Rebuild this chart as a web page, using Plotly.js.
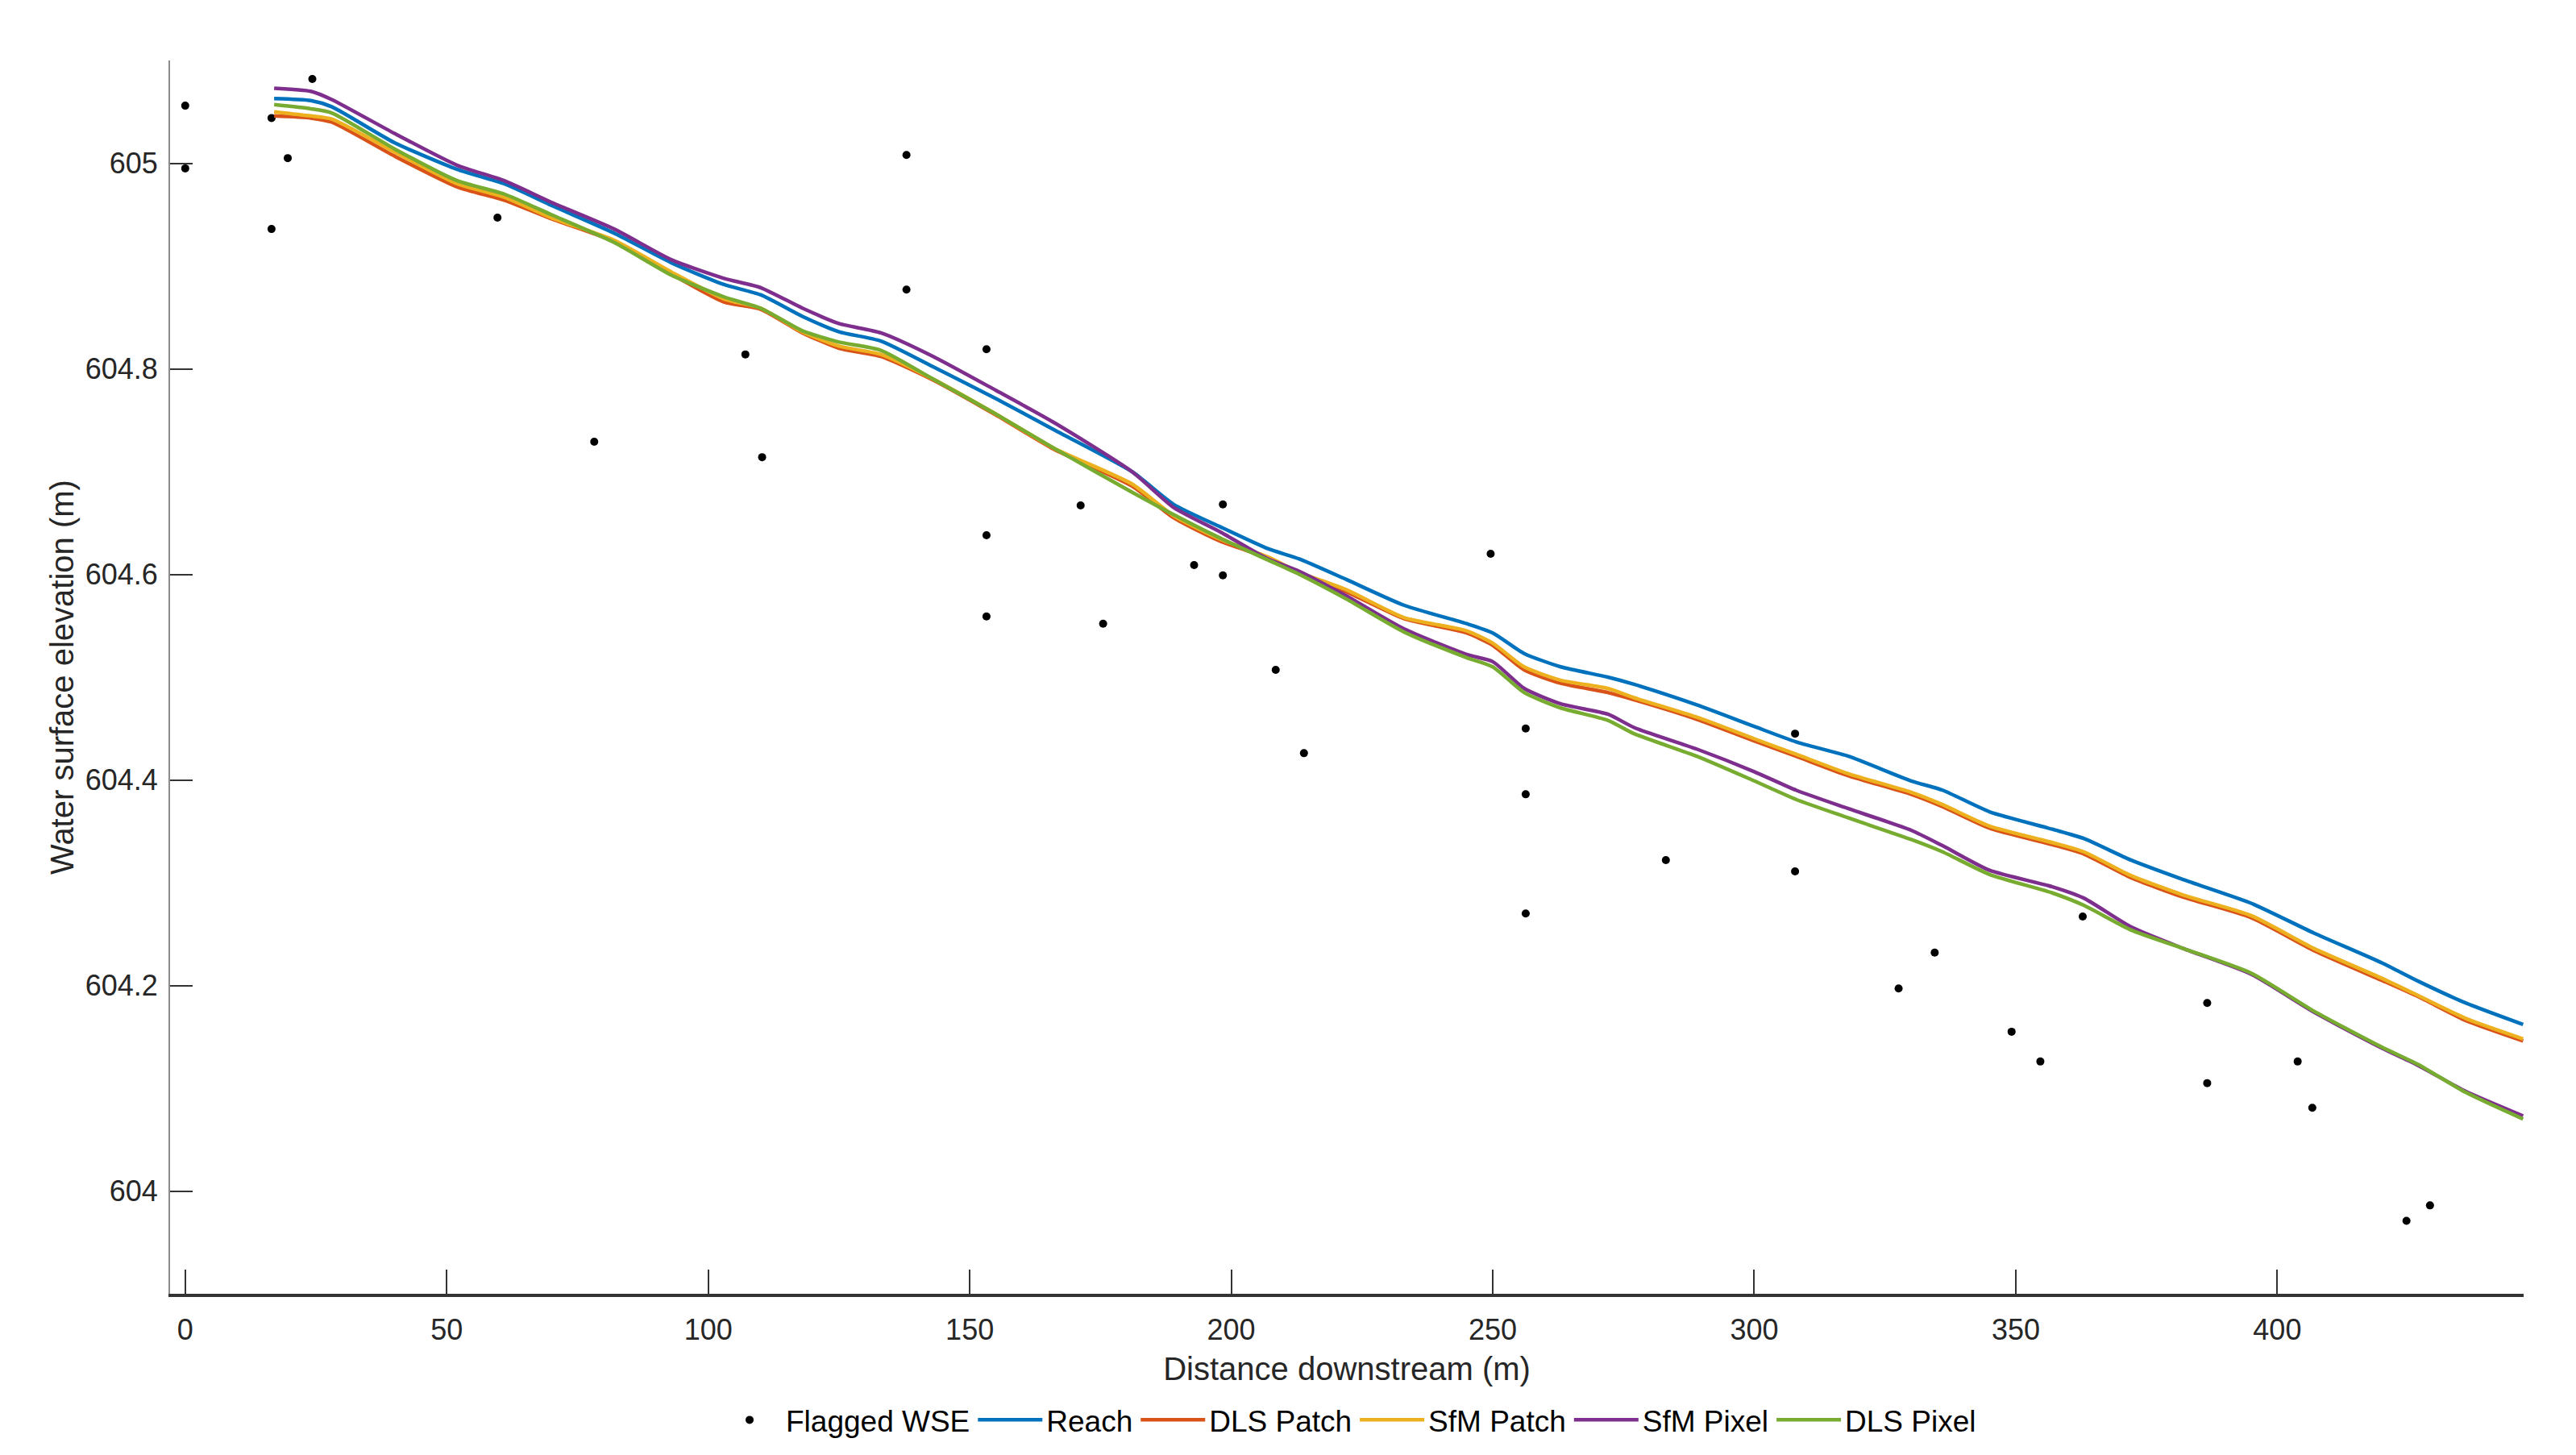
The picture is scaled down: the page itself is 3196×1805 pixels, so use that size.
<!DOCTYPE html>
<html>
<head>
<meta charset="utf-8">
<script src="https://cdn.plot.ly/plotly-3.0.1.min.js"></script>
<style>
html,body{margin:0;padding:0;background:#fff;}
#chart{width:3196px;height:1805px;}
</style>
</head>
<body>
<div id="chart"></div>
<script>
// Flagged water surface elevation points
const flaggedX = [0, 0, 16.5, 16.5, 19.6, 24.3, 59.7, 78.2, 107.1, 110.3, 137.9, 137.9, 153.2, 153.2, 153.2, 171.2, 175.5, 192.9, 198.4, 198.4, 208.5, 213.9, 249.6, 256.3, 256.3, 256.3, 283.1, 307.8, 307.8, 327.6, 334.5, 349.2, 354.7, 362.8, 386.6, 386.6, 403.9, 406.7, 424.7, 429.2];
const flaggedY = [605.056, 604.995, 605.044, 604.936, 605.005, 605.082, 604.947, 604.729, 604.814, 604.714, 605.008, 604.877, 604.819, 604.638, 604.559, 604.667, 604.552, 604.609, 604.668, 604.599, 604.507, 604.426, 604.620, 604.450, 604.386, 604.270, 604.322, 604.445, 604.311, 604.197, 604.232, 604.155, 604.126, 604.267, 604.183, 604.105, 604.126, 604.081, 603.971, 603.986];

// Distance downstream (m) for the modelled profiles
const distance = [17, 24, 28, 40, 52, 61, 70, 82, 93, 103, 110, 118, 125, 133, 143, 155, 166, 181, 189, 198, 207, 213, 222, 233, 245, 250, 256, 263, 272, 277, 289, 300, 308, 318, 330, 336, 345, 357, 363, 372, 382, 395, 407, 420, 427, 436, 447];

const reach = [605.063, 605.061, 605.055, 605.020, 604.994, 604.980, 604.959, 604.932, 604.903, 604.882, 604.872, 604.851, 604.836, 604.827, 604.802, 604.771, 604.741, 604.700, 604.668, 604.646, 604.625, 604.615, 604.595, 604.570, 604.552, 604.543, 604.523, 604.510, 604.500, 604.493, 604.473, 604.452, 604.437, 604.423, 604.399, 604.390, 604.369, 604.352, 604.343, 604.322, 604.303, 604.280, 604.251, 604.222, 604.204, 604.183, 604.162];

const dlsPatch = [605.046, 605.044, 605.040, 605.007, 604.977, 604.964, 604.946, 604.924, 604.892, 604.865, 604.858, 604.835, 604.820, 604.812, 604.789, 604.755, 604.722, 604.686, 604.655, 604.632, 604.616, 604.601, 604.583, 604.557, 604.543, 604.531, 604.507, 604.494, 604.485, 604.478, 604.459, 604.438, 604.423, 604.404, 604.386, 604.374, 604.353, 604.337, 604.328, 604.305, 604.286, 604.266, 604.234, 604.205, 604.189, 604.166, 604.146];

const sfmPatch = [605.050, 605.046, 605.043, 605.011, 604.980, 604.967, 604.947, 604.925, 604.894, 604.868, 604.859, 604.836, 604.822, 604.814, 604.790, 604.756, 604.723, 604.688, 604.657, 604.634, 604.617, 604.602, 604.585, 604.558, 604.545, 604.533, 604.510, 604.497, 604.489, 604.480, 604.461, 604.440, 604.425, 604.406, 604.388, 604.376, 604.355, 604.339, 604.330, 604.307, 604.288, 604.268, 604.236, 604.207, 604.190, 604.168, 604.148];

const sfmPixel = [605.073, 605.070, 605.062, 605.029, 604.998, 604.983, 604.962, 604.936, 604.906, 604.888, 604.879, 604.859, 604.844, 604.835, 604.812, 604.779, 604.748, 604.700, 604.665, 604.641, 604.615, 604.603, 604.579, 604.547, 604.522, 604.515, 604.489, 604.474, 604.464, 604.451, 604.430, 604.408, 604.390, 604.372, 604.351, 604.336, 604.312, 604.296, 604.285, 604.257, 604.236, 604.211, 604.174, 604.139, 604.122, 604.097, 604.073];

const dlsPixel = [605.057, 605.053, 605.049, 605.014, 604.983, 604.970, 604.950, 604.923, 604.891, 604.870, 604.859, 604.837, 604.826, 604.818, 604.790, 604.756, 604.723, 604.680, 604.658, 604.635, 604.614, 604.600, 604.576, 604.544, 604.519, 604.510, 604.485, 604.470, 604.458, 604.445, 604.423, 604.399, 604.381, 604.363, 604.342, 604.330, 604.308, 604.290, 604.278, 604.254, 604.236, 604.212, 604.175, 604.140, 604.123, 604.096, 604.070];

const xTicks = [0, 50, 100, 150, 200, 250, 300, 350, 400];
const yTicks = [604, 604.2, 604.4, 604.6, 604.8, 605];
const yTickText = ['604', '604.2', '604.4', '604.6', '604.8', '605'];

const FONT = 'Liberation Sans, Arial, Helvetica, sans-serif';

function lineTrace(name, y, color) {
  return {
    type: 'scatter', mode: 'lines', name: name,
    x: distance, y: y,
    line: {color: color, width: 4.5, shape: 'spline', smoothing: 0.6}
  };
}

const data = [
  {type: 'scatter', mode: 'markers', name: 'Flagged WSE', x: flaggedX, y: flaggedY,
   marker: {color: '#000000', size: 10, symbol: 'circle'}},
  lineTrace('Reach', reach, '#0072BD'),
  lineTrace('DLS Patch', dlsPatch, '#D95319'),
  lineTrace('SfM Patch', sfmPatch, '#EDB120'),
  lineTrace('SfM Pixel', sfmPixel, '#7E2F8E'),
  lineTrace('DLS Pixel', dlsPixel, '#77AC30')
];

const layout = {
  width: 3196, height: 1805,
  paper_bgcolor: '#ffffff', plot_bgcolor: '#ffffff',
  margin: {l: 211, r: 65, t: 75, b: 181, pad: 0},
  font: {family: FONT, size: 36, color: '#262626'},
  showlegend: true,
  xaxis: {
    range: [-2.9, 447.1], autorange: false,
    tickmode: 'array', tickvals: xTicks,
    ticks: 'inside', ticklen: 30, tickwidth: 2, tickcolor: '#333333',
    showline: true, linecolor: '#333333', linewidth: 4,
    showgrid: false, zeroline: false, mirror: false,
    tickfont: {family: FONT, size: 36, color: '#262626'},
    ticklabelstandoff: 10,
    title: {text: 'Distance downstream (m)', font: {family: FONT, size: 40, color: '#262626'}, standoff: 16},
    automargin: false
  },
  yaxis: {
    range: [603.9, 605.1], autorange: false,
    tickmode: 'array', tickvals: yTicks, ticktext: yTickText,
    ticks: 'inside', ticklen: 28, tickwidth: 2, tickcolor: '#333333',
    showline: true, linecolor: '#8c8c8c', linewidth: 2,
    showgrid: false, zeroline: false, mirror: false,
    tickfont: {family: FONT, size: 36, color: '#262626'},
    ticklabelstandoff: 6,
    title: {text: 'Water surface elevation (m)', font: {family: FONT, size: 40, color: '#262626'}, standoff: 2},
    automargin: false
  },
  legend: {
    orientation: 'h', x: 0.5, xanchor: 'center', y: -0.1025, yanchor: 'middle',
    font: {family: FONT, size: 37, color: '#000000'},
    bgcolor: 'rgba(0,0,0,0)', borderwidth: 0,
    itemwidth: 80, tracegroupgap: 0
  }
};

Plotly.newPlot('chart', data, layout, {displayModeBar: false, staticPlot: true});
</script>
</body>
</html>
